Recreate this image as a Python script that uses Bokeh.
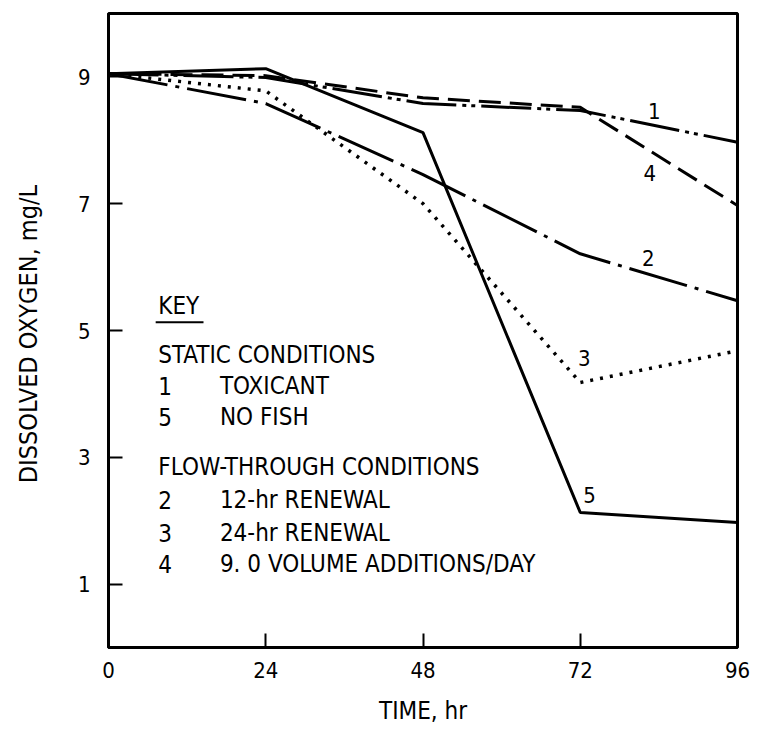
import math
from bokeh.plotting import figure
from bokeh.models import Range1d, FixedTicker
from bokeh.embed import file_html
from bokeh.resources import INLINE
from bokeh.core.properties import value

# ---- data ----
time_hr = [0, 24, 48, 72, 96]
do_toxicant = [9.05, 8.99, 8.58, 8.47, 7.97]      # 1 static, toxicant
do_no_fish = [9.05, 9.13, 8.12, 2.13, 1.97]       # 5 static, no fish
do_renew_12 = [9.05, 8.58, 7.46, 6.21, 5.47]      # 2 flow-through 12-hr renewal
do_renew_24 = [9.05, 8.78, 7.00, 4.18, 4.68]      # 3 flow-through 24-hr renewal
do_vol_add = [9.05, 9.02, 8.67, 8.52, 6.97]       # 4 flow-through 9.0 vol additions/day

x_ticks = [0, 24, 48, 72, 96]
y_ticks = [1, 3, 5, 7, 9]

curve_ids = ["1", "4", "2", "3", "5"]
curve_label_x = [83.3, 82.6, 82.4, 72.6, 73.4]
curve_label_y = [8.47, 7.48, 6.14, 4.56, 2.40]

key_title = "KEY"
key_nums = ["", "1", "5", "", "2", "3", "4"]
key_texts = ["STATIC CONDITIONS", "TOXICANT", "NO FISH", "FLOW-THROUGH CONDITIONS",
             "12-hr RENEWAL", "24-hr RENEWAL", "9. 0 VOLUME ADDITIONS/DAY"]
key_y = [4.61, 4.13, 3.64, 2.84, 2.32, 1.81, 1.32]

FONT = "'DejaVu Sans Condensed', 'Liberation Sans Narrow', sans-serif"

p = figure(width=757, height=737, output_backend="svg", toolbar_location=None,
           x_range=Range1d(0, 96), y_range=Range1d(0, 10),
           min_border_left=108, min_border_right=20, min_border_top=13, min_border_bottom=90)
p.grid.visible = False
p.outline_line_color = "black"
p.outline_line_width = 3
p.background_fill_color = "white"
p.border_fill_color = "white"

for ax in (p.xaxis[0], p.yaxis[0]):
    ax.axis_line_width = 3
    ax.axis_line_color = "black"
    ax.major_tick_in = 14
    ax.major_tick_out = 0
    ax.major_tick_line_width = 2
    ax.minor_tick_line_color = None
    ax.major_label_text_font = FONT
    ax.major_label_text_font_size = "22px"
    ax.major_label_text_color = "black"
    ax.axis_label_text_font = FONT
    ax.axis_label_text_font_style = "normal"
    ax.axis_label_text_color = "black"

p.xaxis[0].ticker = FixedTicker(ticks=x_ticks)
p.yaxis[0].ticker = FixedTicker(ticks=y_ticks)
p.xaxis[0].major_label_standoff = 14
p.yaxis[0].major_label_standoff = 18
p.xaxis[0].axis_label = "TIME, hr"
p.xaxis[0].axis_label_text_font_size = "24px"
p.xaxis[0].axis_label_standoff = 16
p.yaxis[0].axis_label = "DISSOLVED OXYGEN,  mg/L"
p.yaxis[0].axis_label_text_font_size = "25px"
p.yaxis[0].axis_label_standoff = 32

LW = 3
p.line(time_hr, do_no_fish, line_color="black", line_width=LW)
p.line(time_hr, do_toxicant, line_color="black", line_width=LW, line_dash="50 6 4 5 4 6")
p.line(time_hr, do_renew_12, line_color="black", line_width=LW, line_dash="60 8 4 8")
p.line(time_hr, do_renew_24, line_color="black", line_width=3.5, line_dash="3 7")
p.line(time_hr, do_vol_add, line_color="black", line_width=LW, line_dash="22 9")

p.text(x=curve_label_x, y=curve_label_y, text=curve_ids, text_align="center",
       text_baseline="middle", text_font=value(FONT), text_font_size="22px", text_color="black")

# key
p.text(x=[7.6], y=[5.39], text=[key_title], text_align="left", text_baseline="middle",
       text_font=value(FONT), text_font_size="24px", text_color="black")
p.segment(x0=[7.2], y0=[5.13], x1=[14.5], y1=[5.13], line_color="black", line_width=2)
p.text(x=[7.6] * len(key_nums), y=key_y, text=key_nums, text_align="left", text_baseline="middle",
       text_font=value(FONT), text_font_size="24px", text_color="black")
key_x = [7.6, 17.0, 17.0, 7.6, 17.0, 17.0, 17.0]
p.text(x=key_x, y=key_y, text=key_texts, text_align="left", text_baseline="middle",
       text_font=value(FONT), text_font_size="24px", text_color="black")

open("out.html", "w").write(file_html(p, INLINE))
